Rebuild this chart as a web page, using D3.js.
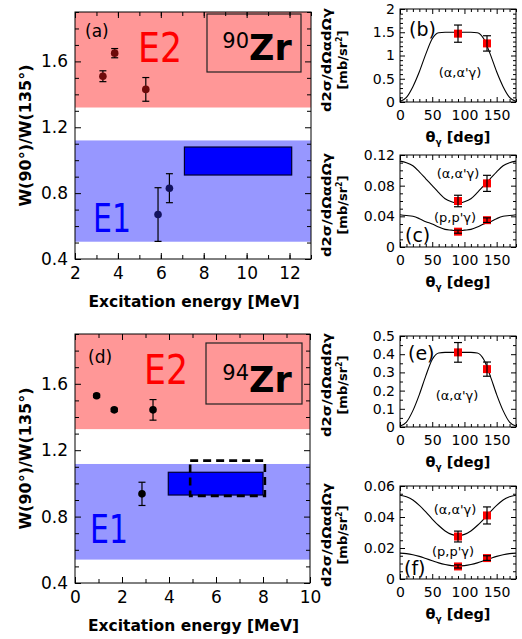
<!DOCTYPE html>
<html><head><meta charset="utf-8">
<script src="https://cdn.jsdelivr.net/npm/d3@7"></script>
<style>body{margin:0;background:#fff}svg{display:block}text{font-family:"DejaVu Sans",sans-serif}</style>
</head><body><svg id="c" width="522" height="639"></svg>
<script>
// ---------- data ----------
// panel (a) 90Zr
const zr90E2Energy = [3.3, 3.85, 5.3];
const zr90E2Ratio  = [1.51, 1.65, 1.43];
const zr90E2Err    = [0.033, 0.028, 0.072];
const zr90E1Energy = [5.87, 6.4];
const zr90E1Ratio  = [0.67, 0.83];
const zr90E1Err    = [0.163, 0.088];
const zr90Box      = [7.1, 12.1, 0.91, 1.08];   // x0,x1,y0,y1
const zr90E2Band   = [1.32, 1.9];
const zr90E1Band   = [0.505, 1.12];
// panel (d) 94Zr
const zr94E2Energy = [0.92, 1.67, 3.32];
const zr94E2Ratio  = [1.528, 1.443, 1.443];
const zr94E2Err    = [0.01, 0.01, 0.062];
const zr94E1Energy = [2.85];
const zr94E1Ratio  = [0.937];
const zr94E1Err    = [0.07];
const zr94Box      = [3.97, 8.0, 0.93, 1.067];
const zr94DashBox  = [4.9, 8.08, 0.925, 1.137];
const zr94E2Band   = [1.327, 1.9];
const zr94E1Band   = [0.541, 1.117];
// angular distributions
const theta = [0,10,20,30,40,50,60,70,80,90,100,110,120,130,140,150,160,170,180];
const bCurve = [0.01,0.10,0.33,0.65,1.03,1.36,1.49,1.50,1.50,1.50,1.50,1.50,1.49,1.36,1.03,0.65,0.33,0.10,0.01];
const bAngle = [90,135], bVal = [1.47,1.26], bErr = [0.185,0.165];
const cAlphaCurve = [0.112,0.110,0.106,0.098,0.089,0.080,0.071,0.063,0.059,0.057,0.059,0.063,0.071,0.080,0.089,0.098,0.106,0.110,0.112];
const cProtonCurve = [0.042,0.041,0.040,0.037,0.033,0.030,0.026,0.023,0.022,0.021,0.022,0.023,0.026,0.030,0.033,0.037,0.040,0.041,0.042];
const cAlphaVal = [0.060,0.083], cAlphaErr = [0.0075,0.0105];
const cProtonVal = [0.020,0.035], cProtonErr = [0.002,0.003];
const eCurve = [0.005,0.027,0.090,0.178,0.281,0.371,0.407,0.41,0.41,0.41,0.41,0.41,0.407,0.371,0.281,0.178,0.090,0.027,0.005];
const eVal = [0.41,0.318], eErr = [0.054,0.039];
const fAlphaCurve = [0.054,0.053,0.051,0.0475,0.0433,0.0387,0.0345,0.031,0.0288,0.028,0.0288,0.031,0.0345,0.0387,0.0433,0.0475,0.051,0.053,0.054];
const fProtonCurve = [0.0167,0.0164,0.0157,0.0146,0.0132,0.0118,0.0104,0.0093,0.0086,0.0083,0.0086,0.0093,0.0104,0.0118,0.0132,0.0146,0.0157,0.0164,0.0167];
const fAlphaVal = [0.0274,0.041], fAlphaErr = [0.0035,0.0055];
const fProtonVal = [0.0081,0.0135], fProtonErr = [0.001,0.0015];

const svg = d3.select("#c");

function range(a,b,s){const r=[];for(let v=a;v<=b+1e-9;v+=s)r.push(+v.toFixed(6));return r;}

function axes(p){
  const [x0,x1]=p.x.range(), [y0,y1]=p.y.range();
  const g=svg.append("g");
  const defs=[
    [d3.axisBottom, p.x, p.xMajor, p.majorLen, p.xFmt, `translate(0,${y0})`, p.xPad],
    [d3.axisBottom, p.x, p.xMinor, p.minorLen, null, `translate(0,${y0})`, 0],
    [d3.axisTop, p.x, p.xMajor, p.majorLen, null, `translate(0,${y1})`, 0],
    [d3.axisTop, p.x, p.xMinor, p.minorLen, null, `translate(0,${y1})`, 0],
    [d3.axisLeft, p.y, p.yMajor, p.majorLen, p.yFmt, `translate(${x0},0)`, p.yPad],
    [d3.axisLeft, p.y, p.yMinor, p.minorLen, null, `translate(${x0},0)`, 0],
    [d3.axisRight, p.y, p.yMajor, p.majorLen, null, `translate(${x1},0)`, 0],
    [d3.axisRight, p.y, p.yMinor, p.minorLen, null, `translate(${x1},0)`, 0]
  ];
  defs.forEach(([fn,sc,vals,len,fmt,tr,pad])=>{
    const ax=fn(sc).tickValues(vals).tickSizeInner(-len).tickSizeOuter(0).tickPadding(pad)
      .tickFormat(fmt?fmt:()=> "");
    const a=g.append("g").attr("transform",tr).call(ax);
    a.select(".domain").remove();
    a.selectAll("line").attr("stroke","#000").attr("stroke-width",1);
    a.selectAll("text").attr("font-size",p.fs).attr("fill","#000").style("font-family","DejaVu Sans");
  });
  g.append("rect").attr("x",x0).attr("y",y1).attr("width",x1-x0).attr("height",y0-y1)
    .attr("fill","none").attr("stroke","#000").attr("stroke-width",1);
}

function errPoints(x,y,xs,ys,es,color,shape,cap){
  const g=svg.append("g");
  xs.forEach((xv,i)=>{
    const cx=x(xv), cy=y(ys[i]);
    if(shape==="sq"){
      g.append("rect").attr("x",cx-4).attr("y",cy-4).attr("width",8).attr("height",8).attr("fill",color);
    }
    g.append("line").attr("x1",cx).attr("x2",cx).attr("y1",y(ys[i]-es[i])).attr("y2",y(ys[i]+es[i])).attr("stroke","#000").attr("stroke-width",1.2);
    [ys[i]-es[i],ys[i]+es[i]].forEach(v=>g.append("line").attr("x1",cx-cap).attr("x2",cx+cap).attr("y1",y(v)).attr("y2",y(v)).attr("stroke","#000").attr("stroke-width",1.2));
    if(shape==="circ"){
      g.append("circle").attr("cx",cx).attr("cy",cy).attr("r",3.8).attr("fill",color);
    }
  });
}

function leftPanel(o){
  const x=d3.scaleLinear().domain(o.xd).range([o.l,o.r]);
  const y=d3.scaleLinear().domain([0.4,1.9]).range([o.b,o.t]);
  svg.append("rect").attr("x",o.l).attr("y",y(o.e2Band[1])).attr("width",o.r-o.l).attr("height",y(o.e2Band[0])-y(o.e2Band[1])).attr("fill","#ff9797");
  svg.append("rect").attr("x",o.l).attr("y",y(o.e1Band[1])).attr("width",o.r-o.l).attr("height",y(o.e1Band[0])-y(o.e1Band[1])).attr("fill","#9797ff");
  // labels
  svg.append("text").attr("x",o.l+o.tagDx).attr("y",o.t+o.tagDy).attr("font-size",17).text(o.tag);
  svg.append("text").attr("x",o.e2x).attr("y",o.e2y).attr("font-size",40).attr("fill","#ff0000").attr("textLength",44).attr("lengthAdjust","spacingAndGlyphs").text("E2");
  svg.append("text").attr("x",o.e1x).attr("y",o.e1y).attr("font-size",39).attr("fill","#0000ff").attr("textLength",38).attr("lengthAdjust","spacingAndGlyphs").text("E1");
  // nucleus box
  svg.append("rect").attr("x",o.nb[0]).attr("y",o.nb[1]).attr("width",o.nb[2]).attr("height",o.nb[3]).attr("fill","none").attr("stroke","#222").attr("stroke-width",1.2);
  const nt=svg.append("text").attr("x",o.nb[0]+o.nb[2]/2+3).attr("y",o.nb[1]+o.nb[3]-12).attr("text-anchor","middle");
  nt.append("tspan").attr("font-size",21).attr("dy",-12).text(o.mass);
  nt.append("tspan").attr("font-size",35).attr("font-weight","bold").attr("dy",12).text("Zr");
  // boxes
  svg.append("rect").attr("x",x(o.box[0])).attr("y",y(o.box[3])).attr("width",x(o.box[1])-x(o.box[0])).attr("height",y(o.box[2])-y(o.box[3]))
    .attr("fill","#0000ff").attr("stroke","#000033").attr("stroke-width",1.2);
  if(o.dash){
    svg.append("rect").attr("x",x(o.dash[0])).attr("y",y(o.dash[3])).attr("width",x(o.dash[1])-x(o.dash[0])).attr("height",y(o.dash[2])-y(o.dash[3]))
      .attr("fill","none").attr("stroke","#000").attr("stroke-width",2.6).attr("stroke-dasharray","8,5");
  }
  axes({x,y,xMajor:o.xMajor,xMinor:o.xMinor,yMajor:[0.4,0.8,1.2,1.6],yMinor:range(0.5,1.9,0.1).filter(v=>![0.8,1.2,1.6].includes(+v.toFixed(1))),
    majorLen:6,minorLen:4,xFmt:d3.format("d"),yFmt:d3.format(".1f"),fs:17,xPad:8,yPad:7});
  errPoints(x,y,o.e2x_,o.e2r,o.e2e,o.e2c,"circ",3.5);
  errPoints(x,y,o.e1x_,o.e1r,o.e1e,o.e1c,"circ",3.5);
  // axis titles
  svg.append("text").attr("transform",`translate(31,${(o.t+o.b)/2}) rotate(-90)`).attr("text-anchor","middle")
    .attr("font-size",16).attr("font-weight","bold").text("W(90°)/W(135°)");
  svg.append("text").attr("x",(o.l+o.r)/2+1).attr("y",o.b+48).attr("text-anchor","middle")
    .attr("font-size",15.5).attr("font-weight","bold").text("Excitation energy [MeV]");
}

leftPanel({l:75,r:311,t:12,b:259,xd:[2,13],xMajor:[2,4,6,8,10,12],xMinor:range(3,13,1),
  e2Band:zr90E2Band,e1Band:zr90E1Band,tag:"(a)",tagDx:10,tagDy:25,e2x:138,e2y:62,e1x:93,e1y:232,
  nb:[207,14,94,58],mass:"90",box:zr90Box,
  e2x_:zr90E2Energy,e2r:zr90E2Ratio,e2e:zr90E2Err,e2c:"#6e0a0a",
  e1x_:zr90E1Energy,e1r:zr90E1Ratio,e1e:zr90E1Err,e1c:"#12125e"});
leftPanel({l:75,r:310,t:334,b:583,xd:[0,10],xMajor:[0,2,4,6,8,10],xMinor:range(1,9,1),
  e2Band:zr94E2Band,e1Band:zr94E1Band,tag:"(d)",tagDx:13,tagDy:29,e2x:144,e2y:384,e1x:90,e1y:543,
  nb:[206,343,96,61],mass:"94",box:zr94Box,dash:zr94DashBox,
  e2x_:zr94E2Energy,e2r:zr94E2Ratio,e2e:zr94E2Err,e2c:"#000",
  e1x_:zr94E1Energy,e1r:zr94E1Ratio,e1e:zr94E1Err,e1c:"#000"});

function rightPanel(o){
  const x=d3.scaleLinear().domain([0,180]).range([400,516]);
  const y=d3.scaleLinear().domain([0,o.ymax]).range([o.b,o.t]);
  axes({x,y,xMajor:[0,50,100,150],xMinor:range(10,180,10).filter(v=>v%50!==0),yMajor:o.yMajor,yMinor:o.yMinor,
    majorLen:5,minorLen:3,xFmt:d3.format("d"),yFmt:o.yFmt,fs:14,xPad:8,yPad:5});
  const line=d3.line().x((d,i)=>x(theta[i])).y(d=>y(d)).curve(d3.curveMonotoneX);
  o.curves.forEach(c=>svg.append("path").attr("d",line(c)).attr("fill","none").attr("stroke","#000").attr("stroke-width",1.1));
  o.pts.forEach(p=>errPoints(x,y,[90,135],p[0],p[1],"#ff0000","sq",4));
  o.labels.forEach(l=>svg.append("text").attr("x",l[0]).attr("y",l[1]).attr("font-size",l[3]).attr("text-anchor",l[4]||"middle").text(l[2]));
  svg.append("text").attr("x",458).attr("y",o.b+40).attr("text-anchor","middle").attr("font-size",14.5).attr("font-weight","bold")
    .call(t=>{t.append("tspan").text("θ");t.append("tspan").attr("font-size",9).attr("dy",3).text("γ");t.append("tspan").attr("dy",-3).text(" [deg]");});
  const cy=o.ly;
  svg.append("text").attr("transform",`translate(331,${cy}) rotate(-90)`).attr("text-anchor","middle").attr("font-size",13).attr("font-weight","bold")
    .attr("textLength",104).attr("lengthAdjust","spacingAndGlyphs").text("d2σ/dΩαdΩγ");
  svg.append("text").attr("transform",`translate(347,${cy}) rotate(-90)`).attr("text-anchor","middle").attr("font-size",13).attr("font-weight","bold")
    .call(t=>{t.append("tspan").text("[mb/sr");t.append("tspan").attr("font-size",8).attr("dy",-5).text("2");t.append("tspan").attr("dy",5).text("]");});
}

rightPanel({t:9,b:102,ymax:2,yMajor:[0,0.5,1,1.5,2],yMinor:range(0.1,1.9,0.1).filter(v=>Math.abs(v*2-Math.round(v*2))>1e-6),yFmt:d3.format(""),
  curves:[bCurve],pts:[[bVal,bErr]],labels:[[409,36,"(b)",19,"start"],[460,77,"(α,α'γ)",13]],ly:60});
rightPanel({t:155,b:247,ymax:0.12,yMajor:[0,0.04,0.08,0.12],yMinor:range(0.01,0.11,0.01).filter(v=>Math.round(v*100)%4!==0),yFmt:d=>d===0?"0":d3.format(".2f")(d),
  curves:[cAlphaCurve,cProtonCurve],pts:[[cAlphaVal,cAlphaErr],[cProtonVal,cProtonErr]],
  labels:[[458,178,"(α,α'γ)",13],[455,222,"(p,p'γ)",13],[405,242,"(c)",19,"start"]],ly:205});
rightPanel({t:336,b:427,ymax:0.5,yMajor:[0,0.1,0.2,0.3,0.4,0.5],yMinor:range(0.05,0.45,0.1),yFmt:d=>d===0?"0":d3.format(".1f")(d),
  curves:[eCurve],pts:[[eVal,eErr]],labels:[[408,360,"(e)",19,"start"],[457,400,"(α,α'γ)",13]],ly:385});
rightPanel({t:486,b:579,ymax:0.06,yMajor:[0,0.02,0.04,0.06],yMinor:range(0.005,0.055,0.005).filter(v=>Math.round(v*1000)%20!==0),yFmt:d=>d===0?"0":d3.format(".2f")(d),
  curves:[fAlphaCurve,fProtonCurve],pts:[[fAlphaVal,fAlphaErr],[fProtonVal,fProtonErr]],
  labels:[[455,514,"(α,α'γ)",13],[453,556,"(p,p'γ)",13],[404,575,"(f)",19,"start"]],ly:535});
</script></body></html>
